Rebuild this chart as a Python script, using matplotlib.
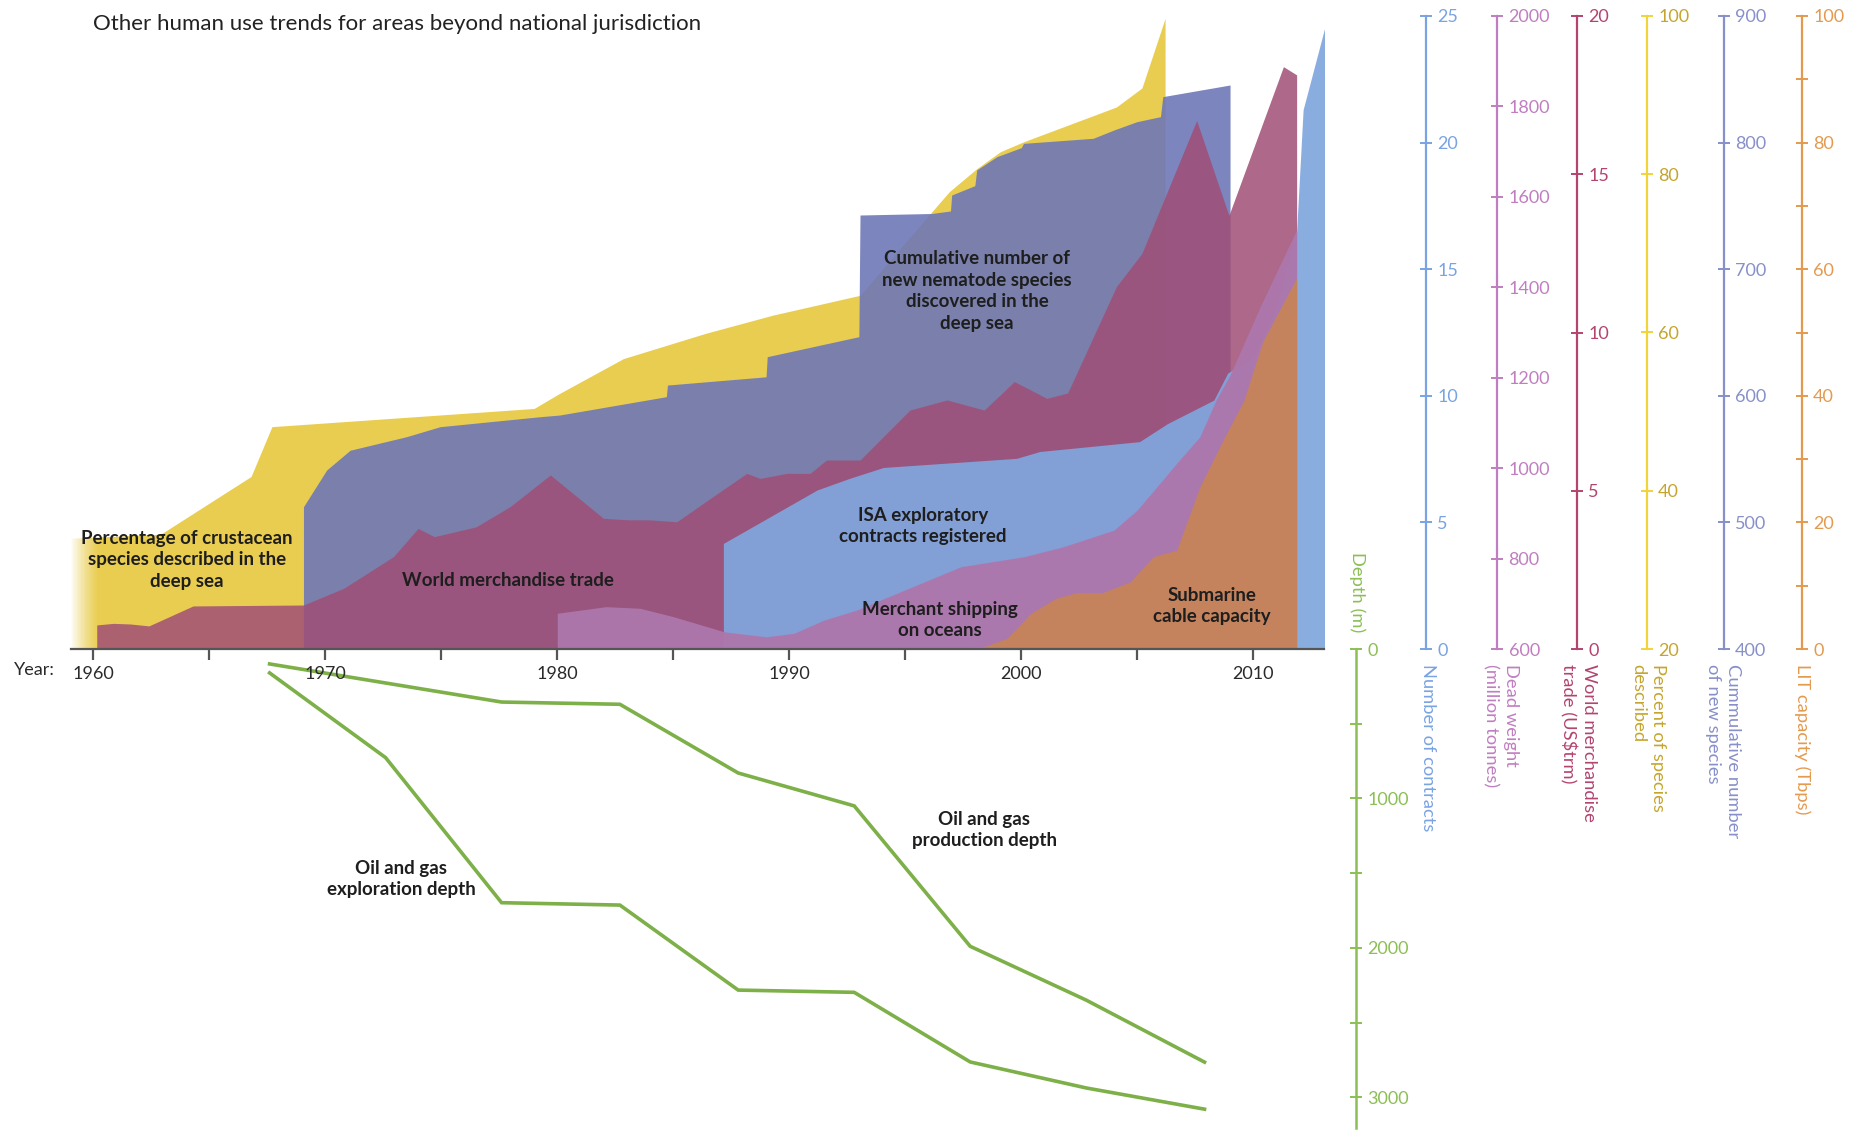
import matplotlib
matplotlib.use("Agg")
import matplotlib.pyplot as plt
import numpy as np

plt.rcParams['font.family'] = ['Lato', 'DejaVu Sans']

# ---------------- data ----------------
# Percentage of crustacean species described in the deep sea (axis 20-100)
pct_years = [1959.04, 1962.9, 1966.8, 1967.7, 1979.0, 1980.1, 1982.85, 1986.4, 1989.3,
             1993.05, 1996.1, 1996.9, 1998.1, 1999.1, 2000.1, 2004.1, 2005.2, 2006.2]
pct_values = [34.0, 34.5, 41.8, 48.1, 50.4, 52.3, 56.7, 59.9, 62.2,
              64.7, 75.1, 77.8, 80.75, 82.85, 84.1, 88.5, 90.9, 99.7]

# Cumulative number of new nematode species (axis 400-900)
nem_years = [1969.06, 1970.06, 1971.07, 1973.5, 1974.95, 1979.27, 1980.1, 1984.7, 1984.75,
             1989.0, 1989.05, 1993.0, 1993.05, 1996.14, 1996.95, 1997.0, 1998.0, 1998.08,
             1998.95, 2000.0, 2000.1, 2003.1, 2004.0, 2004.98, 2006.0, 2006.1, 2009.0]
nem_values = [512.4, 541.4, 557.0, 567.7, 575.6, 583.5, 584.8, 599.3, 608.5,
              615.0, 630.9, 646.7, 742.8, 744.0, 746.0, 758.6, 766.0, 778.4,
              788.9, 796.0, 799.4, 803.4, 810.0, 816.5, 820.5, 836.3, 845.5]

# World merchandise trade, US$ trillion (axis 0-20)
trade_years = [1960.15, 1960.87, 1961.6, 1962.4, 1964.3, 1969.06, 1970.8, 1972.94, 1974.0,
               1974.7, 1976.5, 1977.97, 1979.7, 1981.99, 1983.1, 1984.0, 1985.15, 1986.7,
               1988.17, 1988.74, 1989.9, 1990.9, 1991.6, 1993.05, 1995.2, 1996.8, 1998.4,
               1999.7, 2001.1, 2002.0, 2004.1, 2005.2, 2007.56, 2008.95, 2011.3, 2011.87]
trade_values = [0.76, 0.81, 0.79, 0.73, 1.36, 1.39, 1.92, 2.92, 3.81,
                3.55, 3.86, 4.5, 5.5, 4.13, 4.08, 4.08, 4.02, 4.81,
                5.55, 5.39, 5.55, 5.55, 5.97, 5.97, 7.55, 7.87, 7.55,
                8.45, 7.92, 8.09, 11.45, 12.5, 16.7, 13.7, 18.4, 18.14]

# ISA exploratory contracts registered (axis 0-25)
isa_years = [1987.16, 1991.2, 1992.6, 1994.06, 1999.8, 2000.8, 2005.1, 2006.3, 2008.3,
             2008.9, 2010.0, 2011.0, 2011.87, 2012.15, 2013.1]
isa_values = [4.17, 6.28, 6.74, 7.17, 7.53, 7.8, 8.19, 8.9, 9.83,
              10.9, 11.5, 13.5, 16.5, 21.3, 24.6]

# Merchant shipping, dead weight million tonnes (axis 600-2000)
ship_years = [1980.0, 1982.1, 1983.57, 1985.0, 1987.2, 1989.0, 1990.2, 1991.5, 1992.9,
              1994.8, 1997.4, 2000.1, 2001.8, 2004.0, 2005.0, 2005.85, 2006.7, 2007.7,
              2008.4, 2009.0, 2010.3, 2011.87]
ship_values = [679, 693.6, 690, 671.5, 638, 627, 634.7, 664, 686,
               726.7, 782, 804, 826, 863, 907.5, 959, 1010.8, 1069.6,
               1150.8, 1206, 1357, 1527]

# Submarine cable capacity, LIT capacity Tbps (axis 0-100)
lit_years = [1996.5, 1998.4, 1999.4, 2000.4, 2001.5, 2002.4, 2003.5, 2004.7, 2005.7,
             2006.7, 2007.7, 2008.7, 2009.6, 2010.4, 2011.87]
lit_values = [0.0, 0.37, 1.7, 5.6, 8.0, 8.9, 8.9, 10.6, 14.6,
              15.6, 25.6, 33.0, 39.3, 48.5, 58.6]

# Oil and gas depths (m)
prod_years = [1967.6, 1977.6, 1982.7, 1987.8, 1992.8, 1997.8, 2002.8, 2007.9]
prod_depth = [100, 355, 370, 830, 1050, 1990, 2350, 2765]
expl_years = [1967.6, 1972.6, 1977.6, 1982.7, 1987.8, 1992.8, 1997.8, 2002.8, 2007.9]
expl_depth = [160, 727, 1698, 1714, 2283, 2298, 2764, 2938, 3080]

year_ticks = [1960, 1970, 1980, 1990, 2000, 2010]
year_minor = [1960, 1965, 1970, 1975, 1980, 1985, 1990, 1995, 2000, 2005, 2010]

# ---------------- figure ----------------
W, H = 1850, 1132
fig = plt.figure(figsize=(W / 100, H / 100), dpi=100)
XL = (1959.04, 2013.05)
TICK_FS = 13


def fx(px):
    return px / W


def fy(py):
    return 1 - py / H


ax = fig.add_axes([fx(71), (H - 649) / H, 1253 / W, 633 / H])


def make_twin(lo, hi, pos, color, lblcolor, major, minor=None):
    t = ax.twinx()
    t.set_ylim(lo, hi)
    for s in ['left', 'top', 'bottom']:
        t.spines[s].set_visible(False)
    t.spines['right'].set_position(('axes', pos))
    t.spines['right'].set_color(color)
    t.spines['right'].set_linewidth(1.6)
    t.set_yticks(major)
    if minor is not None:
        t.set_yticks(minor, minor=True)
    t.tick_params(axis='y', which='both', direction='inout', length=8, width=1.4,
                  color=color, labelcolor=lblcolor, labelsize=TICK_FS, pad=4)
    return t


def frac(x):
    return (x - 71) / 1253


c_pct, c_pct_l = '#F0D43A', '#C6A52E'
c_nem = '#8790C8'
c_trade = '#B3446F'
c_isa = '#79A3E2'
c_ship = '#C07EC0'
c_lit = '#E49A4E'
c_depth = '#8CBF55'

t_pct = make_twin(20, 100, frac(1647), c_pct, c_pct_l, [20, 40, 60, 80, 100])
t_nem = make_twin(400, 900, frac(1724), c_nem, c_nem, [400, 500, 600, 700, 800, 900])
t_trade = make_twin(0, 20, frac(1577), c_trade, c_trade, [0, 5, 10, 15, 20])
t_isa = make_twin(0, 25, frac(1426), c_isa, c_isa, [0, 5, 10, 15, 20, 25])
t_ship = make_twin(600, 2000, frac(1497.5), c_ship, c_ship, list(range(600, 2001, 200)))
t_lit = make_twin(0, 100, frac(1802), c_lit, c_lit, [0, 20, 40, 60, 80, 100],
                  minor=list(range(10, 100, 20)))

# areas
t_pct.fill_between(pct_years, 20, pct_values, color='#E9CD50', lw=0)
grad = np.ones((1, 60, 4))
grad[0, :, 3] = np.linspace(0.97, 0.0, 60) ** 1.3
t_pct.imshow(grad, extent=[XL[0], 1960.25, 20, 40], aspect='auto', zorder=3,
             interpolation='bilinear')
t_nem.fill_between(nem_years, 400, nem_values, color='#6E78B6', alpha=0.9, lw=0)
t_trade.fill_between(trade_years, 0, trade_values, color='#A04E76', alpha=0.85, lw=0)
t_isa.fill_between(isa_years, 0, isa_values, color='#80A6DE', alpha=0.92, lw=0)
t_ship.fill_between(ship_years, 600, ship_values, color='#AD77AD', alpha=0.96, lw=0)
t_lit.fill_between(lit_years, 0, lit_values, color='#C5845A', alpha=0.97, lw=0)

t_pct.set_ylim(20, 100)

# main axis with years
ax.set_zorder(10)
ax.patch.set_visible(False)
ax.set_xlim(*XL)
ax.set_ylim(0, 1)
ax.yaxis.set_visible(False)
for s in ['left', 'top', 'right']:
    ax.spines[s].set_visible(False)
ax.spines['bottom'].set_color('#555555')
ax.spines['bottom'].set_linewidth(1.6)
ax.set_xticks(year_ticks)
ax.set_xticks(year_minor, minor=True)
ax.tick_params(axis='x', which='both', direction='out', length=8, width=1.6,
               color='#555555', labelsize=TICK_FS, labelcolor='#2a2a2a', pad=4)

# depth axis
axd = fig.add_axes([fx(71), 4 / H, 1253 / W, 479 / H])
axd.patch.set_visible(False)
axd.set_xlim(*XL)
axd.set_ylim(3206, 0)
axd.xaxis.set_visible(False)
for s in ['left', 'top', 'bottom']:
    axd.spines[s].set_visible(False)
axd.yaxis.tick_right()
axd.spines['right'].set_position(('axes', frac(1356)))
axd.spines['right'].set_color(c_depth)
axd.spines['right'].set_linewidth(1.8)
axd.set_yticks([0, 1000, 2000, 3000])
axd.set_yticks([500, 1500, 2500], minor=True)
axd.tick_params(axis='y', which='both', direction='inout', length=8, width=1.4,
                color=c_depth, labelcolor=c_depth, labelsize=TICK_FS, pad=4)
axd.plot(prod_years, prod_depth, color='#7DB048', lw=2.6, solid_joinstyle='miter')
axd.plot(expl_years, expl_depth, color='#7DB048', lw=2.6, solid_joinstyle='miter')

# ---------------- texts ----------------
fig.text(fx(93), fy(24), 'Other human use trends for areas beyond national jurisdiction',
         ha='left', va='center', fontsize=16, color='#222222')
fig.text(fx(14), fy(670), 'Year:', ha='left', va='center', fontsize=TICK_FS, color='#2a2a2a')

inner = [
    ('Percentage of crustacean\nspecies described in the\ndeep sea', 187, 560),
    ('World merchandise trade', 508, 580),
    ('Cumulative number of\nnew nematode species\ndiscovered in the\ndeep sea', 977, 291),
    ('ISA exploratory\ncontracts registered', 923, 526),
    ('Merchant shipping\non oceans', 940, 620),
    ('Submarine\ncable capacity', 1212, 606),
    ('Oil and gas\nproduction depth', 984, 830),
    ('Oil and gas\nexploration depth', 401, 879),
]
for s, x, y in inner:
    fig.text(fx(x), fy(y), s, ha='center', va='center', multialignment='center',
             fontsize=13.5, fontweight='bold', color='#1e1e1e', linespacing=1.35,
             zorder=20)

axis_labels = [
    ('Number of contracts', 1428, c_isa),
    ('Dead weight\n(million tonnes)', 1501, c_ship),
    ('World merchandise\ntrade (US$trm)', 1578, c_trade),
    ('Percent of species\ndescribed', 1648, c_pct_l),
    ('Cummulative number\nof new species', 1723, c_nem),
    ('LIT capacity (Tbps)', 1802, c_lit),
]
for s, x, c in axis_labels:
    fig.text(fx(x), fy(664), s, rotation=-90, ha='center', va='top',
             multialignment='left', fontsize=13.2, color=c, linespacing=1.3)

fig.text(fx(1357), fy(592), 'Depth (m)', rotation=-90, ha='center', va='center',
         fontsize=13.2, color=c_depth)

fig.savefig('out.png', dpi=100)
